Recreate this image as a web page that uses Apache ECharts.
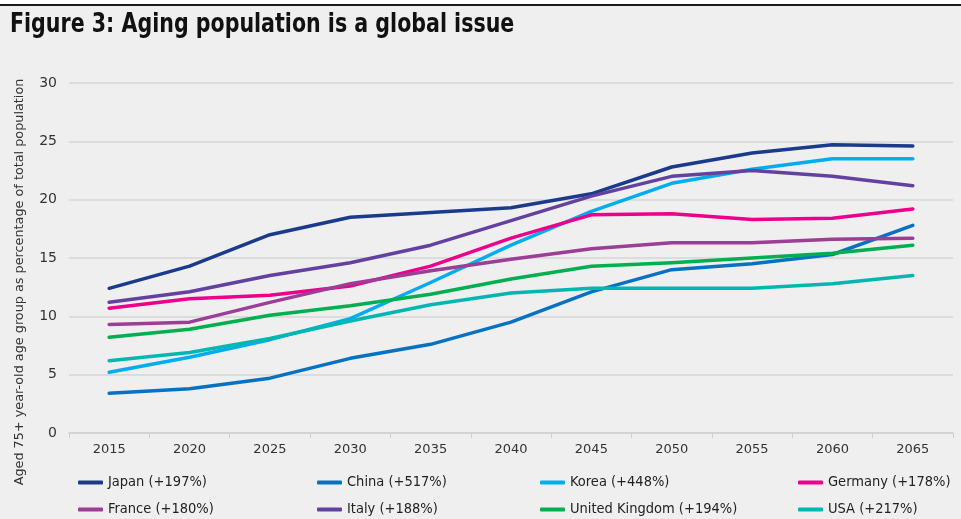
<!DOCTYPE html>
<html><head><meta charset="utf-8">
<script src="https://cdn.jsdelivr.net/npm/echarts@6/dist/echarts.min.js"></script>
<style>html,body{margin:0;padding:0;background:#efefef;}#c{width:961px;height:519px;}</style>
</head><body><div id="c"></div>
<script>
const years = ['2015','2020','2025','2030','2035','2040','2045','2050','2055','2060','2065'];
const japan   = [12.4, 14.3, 17.0, 18.5, 18.9, 19.3, 20.5, 22.8, 24.0, 24.7, 24.6];
const china   = [3.4, 3.8, 4.7, 6.4, 7.6, 9.5, 12.1, 14.0, 14.5, 15.3, 17.8];
const korea   = [5.2, 6.5, 8.0, 9.8, 12.9, 16.1, 19.0, 21.4, 22.6, 23.5, 23.5];
const germany = [10.7, 11.5, 11.8, 12.6, 14.3, 16.7, 18.7, 18.8, 18.3, 18.4, 19.2];
const france  = [9.3, 9.5, 11.2, 12.8, 13.9, 14.9, 15.8, 16.3, 16.3, 16.6, 16.7];
const italy   = [11.2, 12.1, 13.5, 14.6, 16.1, 18.2, 20.3, 22.0, 22.5, 22.0, 21.2];
const uk      = [8.2, 8.9, 10.1, 10.9, 11.9, 13.2, 14.3, 14.6, 15.0, 15.4, 16.1];
const usa     = [6.2, 6.9, 8.1, 9.6, 11.0, 12.0, 12.4, 12.4, 12.4, 12.8, 13.5];
const yTicks  = [0, 5, 10, 15, 20, 25, 30];

const seriesDefs = [
  ['Japan (+197%)', japan, '#1b3a8c'],
  ['China (+517%)', china, '#0872c2'],
  ['Korea (+448%)', korea, '#00aeef'],
  ['Germany (+178%)', germany, '#ec008c'],
  ['France (+180%)', france, '#9c3d96'],
  ['Italy (+188%)', italy, '#6441a0'],
  ['United Kingdom (+194%)', uk, '#00b050'],
  ['USA (+217%)', usa, '#00b8b0']
];
const legendFont = {fontFamily:'"DejaVu Sans Condensed","Liberation Sans",sans-serif', fontSize:14.5, color:'#222'};
const colLefts = [73, 312, 535, 793];
const rowTops = [470, 497];
const legends = seriesDefs.map((d, i) => ({
  left: colLefts[i % 4], top: rowTops[Math.floor(i / 4)],
  itemWidth: 25, itemHeight: 4, icon: 'roundRect', itemGap: 10,
  data: [d[0]], textStyle: legendFont, selectedMode: false
}));

const chart = echarts.init(document.getElementById('c'), null, {renderer:'canvas'});
chart.setOption({
  backgroundColor: '#efefef',
  animation: false,
  graphic: [
    {type:'rect', shape:{x:0,y:0,width:961,height:4}, style:{fill:'#ffffff'}},
    {type:'rect', shape:{x:0,y:4,width:961,height:2}, style:{fill:'#1a1a1a'}},
    {type:'text', x: 10, y: 12, scaleX: 0.88, style:{text:'Figure 3: Aging population is a global issue', font:'bold 26px "DejaVu Sans Condensed",sans-serif', fill:'#111'}},
    {type:'text', x: 20, y: 282, rotation: Math.PI/2, style:{text:'Aged 75+ year-old age group as percentage of total population', font:'12.8px "DejaVu Sans",sans-serif', fill:'#333', align:'center', verticalAlign:'middle'}}
  ],
  legend: legends,
  grid: {left: 69, right: 8, top: 83, bottom: 86},
  xAxis: {
    type: 'category', data: years, boundaryGap: true,
    axisLine: {lineStyle:{color:'#cfcfcf', width:1.5}},
    axisTick: {show:true, length:5, lineStyle:{color:'#cfcfcf'}},
    axisLabel: {fontFamily:'"DejaVu Sans",sans-serif', fontSize:13, color:'#333', margin:10}
  },
  yAxis: {
    type: 'value', min: yTicks[0], max: yTicks[yTicks.length-1], interval: 5,
    axisLine: {show:false}, axisTick: {show:false},
    splitLine: {lineStyle:{color:'#d6d6d6', width:1.5}},
    axisLabel: {fontFamily:'"DejaVu Sans",sans-serif', fontSize:14, color:'#333', margin:12}
  },
  series: seriesDefs.map(d => ({
    name: d[0], type: 'line', data: d[1], color: d[2],
    symbol: 'none', lineStyle: {width: 3.5, cap: 'round', join: 'round'},
    emphasis: {disabled: true}
  }))
});
</script></body></html>
